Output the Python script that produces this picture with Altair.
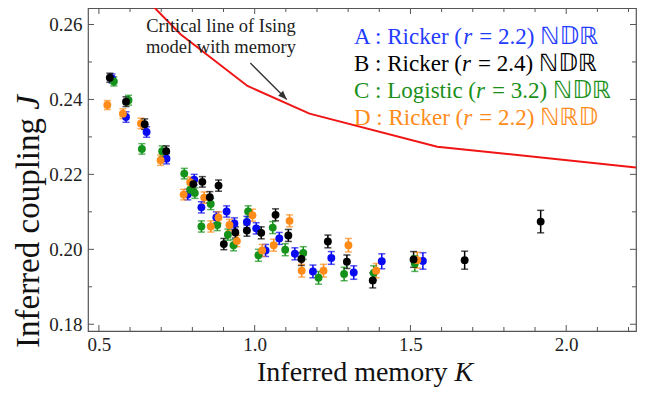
import altair as alt
import pandas as pd

FONT = "Liberation Serif"
W, H = 548, 323
K_DOMAIN = [0.465, 2.224]
J_DOMAIN = [0.1782, 0.2644]

# ---- data ----
a_k = [0.542, 0.587, 0.653, 0.717, 0.785, 0.806, 0.829, 0.877, 0.910, 0.935, 0.975, 1.005, 1.035, 1.079, 1.129, 1.187, 1.246, 1.318, 1.408, 1.540]
a_j = [0.2456, 0.2353, 0.2313, 0.2242, 0.2146, 0.2186, 0.2112, 0.2085, 0.2101, 0.2069, 0.2073, 0.2056, 0.1997, 0.2029, 0.1988, 0.1941, 0.1977, 0.1938, 0.1968, 0.1969]
a_e = [0.0012, 0.0014, 0.0014, 0.0014, 0.0014, 0.0014, 0.0015, 0.0015, 0.0015, 0.0015, 0.0015, 0.0015, 0.0016, 0.0016, 0.0016, 0.0017, 0.0017, 0.0018, 0.0020, 0.0022]

b_k = [0.535, 0.587, 0.647, 0.716, 0.803, 0.832, 0.856, 0.884, 0.901, 0.938, 0.975, 1.021, 1.067, 1.108, 1.150, 1.235, 1.296, 1.379, 1.510, 1.674, 1.918]
b_j = [0.2458, 0.2394, 0.2334, 0.2262, 0.2174, 0.2180, 0.2139, 0.2170, 0.2014, 0.2045, 0.2050, 0.2044, 0.2092, 0.2037, 0.1974, 0.2021, 0.1967, 0.1917, 0.1973, 0.1971, 0.2074]
b_e = [0.0012, 0.0013, 0.0014, 0.0014, 0.0014, 0.0014, 0.0015, 0.0015, 0.0015, 0.0015, 0.0015, 0.0016, 0.0016, 0.0016, 0.0017, 0.0017, 0.0018, 0.0020, 0.0021, 0.0024, 0.0030]

c_k = [0.548, 0.595, 0.638, 0.703, 0.774, 0.793, 0.808, 0.859, 0.829, 0.880, 0.914, 0.932, 0.979, 1.012, 1.058, 1.098, 1.156, 1.205, 1.287, 1.382, 1.514]
c_j = [0.2448, 0.2398, 0.2268, 0.2262, 0.2202, 0.2159, 0.2150, 0.2121, 0.2061, 0.2065, 0.2039, 0.2011, 0.2101, 0.1984, 0.2058, 0.1999, 0.1990, 0.1924, 0.1934, 0.1937, 0.1962]
c_e = [0.0012, 0.0013, 0.0014, 0.0014, 0.0014, 0.0014, 0.0014, 0.0015, 0.0015, 0.0015, 0.0015, 0.0015, 0.0015, 0.0016, 0.0016, 0.0016, 0.0017, 0.0017, 0.0018, 0.0019, 0.0021]

d_k = [0.527, 0.577, 0.635, 0.698, 0.772, 0.793, 0.838, 0.859, 0.884, 0.919, 0.943, 0.993, 1.024, 1.061, 1.112, 1.151, 1.221, 1.301, 1.390, 1.522]
d_j = [0.2385, 0.2362, 0.2336, 0.2238, 0.2146, 0.2179, 0.2138, 0.2061, 0.2085, 0.2065, 0.2022, 0.2091, 0.1997, 0.2011, 0.2076, 0.1943, 0.1943, 0.2011, 0.1943, 0.1971]
d_e = [0.0012, 0.0013, 0.0014, 0.0014, 0.0014, 0.0014, 0.0015, 0.0015, 0.0015, 0.0015, 0.0015, 0.0016, 0.0016, 0.0016, 0.0016, 0.0017, 0.0017, 0.0018, 0.0019, 0.0021]

crit_k = [0.600, 0.762, 0.977, 1.176, 1.586, 2.224]
crit_j = [0.2711, 0.2574, 0.2436, 0.2362, 0.2274, 0.2218]

arrow_k = [0.986, 1.103]
arrow_j = [0.2497, 0.2400]

x_major = [0.5, 1.0, 1.5, 2.0]
x_minor = [0.6, 0.7, 0.8, 0.9, 1.1, 1.2, 1.3, 1.4, 1.6, 1.7, 1.8, 1.9, 2.1, 2.2]
y_major = [0.18, 0.20, 0.22, 0.24, 0.26]
y_minor = [0.19, 0.21, 0.23, 0.25]

series_names = ["A", "B", "C", "D"]
series_colors = ["#0a0af0", "#000000", "#15921a", "#ff8c1a"]
NB = "\u00a0"
legend_pre = ["A : Ricker (", "B : Ricker (", "C : Logistic (", "D : Ricker ("]
legend_mid = ["= 2.2)", "= 2.4)", "= 3.2)", "= 2.2)"]
legend_ds = ["\u2115\U0001D53B\u211D", "\u2115\U0001D53B\u211D", "\u2115\U0001D53B\u211D", "\u2115\u211D\U0001D53B"]
legend_colors = ["#1f3cff", "#000000", "#1a901a", "#ff8c1a"]
legend_pre_em = [4.749, 4.694, 5.306, 4.749]
legend_mid_em = 2.397

# ---- frames ----
rows = []
for name, ks, js, es in [("A", a_k, a_j, a_e), ("C", c_k, c_j, c_e),
                         ("D", d_k, d_j, d_e), ("B", b_k, b_j, b_e)]:
    for k, j, e in zip(ks, js, es):
        rows.append({"series": name, "K": k, "J": j, "lo": j - e, "hi": j + e})
df = pd.DataFrame(rows)
crit_df = pd.DataFrame({"K": crit_k, "J": crit_j})
arrow_df = pd.DataFrame({"K": [arrow_k[0]], "J": [arrow_j[0]], "K2": [arrow_k[1]], "J2": [arrow_j[1]]})
head_df = pd.DataFrame({"K": [arrow_k[1]], "J": [arrow_j[1]]})

xs = alt.Scale(domain=K_DOMAIN, nice=False, zero=False)
ys = alt.Scale(domain=J_DOMAIN, nice=False, zero=False)
color = alt.Color("series:N", scale=alt.Scale(domain=series_names, range=series_colors), legend=None)

FRAME = "#555555"
X_AX = alt.Axis(values=x_major, format=".1f", title=None, grid=False, domain=False, ticks=False,
                labelFont=FONT, labelFontSize=19, labelColor="#222222", labelPadding=4,
                labelFlush=False)
Y_AX = alt.Axis(values=y_major, format=".2f", title=None, grid=False, domain=False, ticks=False,
                labelFont=FONT, labelFontSize=19, labelColor="#222222", labelPadding=6,
                labelFlush=False)


def X(field):
    return alt.X(field, scale=xs, axis=X_AX)


def Y(field):
    return alt.Y(field, scale=ys, axis=Y_AX)


def xticks(vals, length):
    d = pd.DataFrame({"K": vals})
    bot = alt.Chart(d).mark_rule(color=FRAME, strokeWidth=1).encode(
        x=X("K:Q"), y=alt.value(H), y2=alt.value(H - length))
    top = alt.Chart(d).mark_rule(color=FRAME, strokeWidth=1).encode(
        x=X("K:Q"), y=alt.value(0), y2=alt.value(length))
    return [bot, top]


def yticks(vals, length):
    d = pd.DataFrame({"J": vals})
    left = alt.Chart(d).mark_rule(color=FRAME, strokeWidth=1).encode(
        y=Y("J:Q"), x=alt.value(0), x2=alt.value(length))
    right = alt.Chart(d).mark_rule(color=FRAME, strokeWidth=1).encode(
        y=Y("J:Q"), x=alt.value(W), x2=alt.value(W - length))
    return [left, right]


def text(t, x, y, size, col, style="normal", angle=0, align="left", baseline="alphabetic", font=FONT):
    return alt.Chart(pd.DataFrame({"t": [t]})).mark_text(
        font=font, fontSize=size, color=col, fontStyle=style, angle=angle,
        align=align, baseline=baseline).encode(x=alt.value(x), y=alt.value(y), text="t:N")


points = alt.Chart(df).mark_circle(size=62, opacity=1).encode(x=X("K:Q"), y=Y("J:Q"), color=color)
bars = alt.Chart(df).mark_rule(strokeWidth=1.5).encode(x=X("K:Q"), y=Y("lo:Q"), y2="hi:Q", color=color)
cap_lo = alt.Chart(df).mark_tick(orient="horizontal", size=7, thickness=1.5).encode(
    x=X("K:Q"), y=Y("lo:Q"), color=color)
cap_hi = alt.Chart(df).mark_tick(orient="horizontal", size=7, thickness=1.5).encode(
    x=X("K:Q"), y=Y("hi:Q"), color=color)

crit = alt.Chart(crit_df).mark_line(color="#f01414", strokeWidth=2, clip=True).encode(
    x=X("K:Q"), y=Y("J:Q"))

arrow = alt.Chart(arrow_df).mark_rule(color="#333333", strokeWidth=1.3).encode(
    x=X("K:Q"), y=Y("J:Q"), x2="K2:Q", y2="J2:Q")
head = alt.Chart(head_df).mark_point(shape="M0,0L-0.4,1L0.4,1Z", filled=True, color="#333333",
                                     opacity=1, size=300, angle=135).encode(x=X("K:Q"), y=Y("J:Q"))

layers = [points.mark_circle(size=62, opacity=0)]
layers += xticks(x_major, 6) + xticks(x_minor, 4) + yticks(y_major, 6) + yticks(y_minor, 4)
layers += [crit, bars, cap_lo, cap_hi, points, arrow, head]

# annotation
layers.append(text("Critical line of Ising", 133, 24, 18.5, "#222222", align="center"))
layers.append(text("model with memory", 133, 45, 18.5, "#222222", align="center"))

# legend
LFS = 23
LX = 266
for i in range(4):
    y = 36 + i * 27
    x1 = LX + legend_pre_em[i] * LFS
    x2 = x1 + 0.389 * LFS + 7
    x3 = x2 + legend_mid_em * LFS + 6
    layers.append(text(legend_pre[i], LX, y, LFS, legend_colors[i]))
    layers.append(text("r", x1, y, LFS, legend_colors[i], style="italic"))
    layers.append(text(legend_mid[i], x2, y, LFS, legend_colors[i]))
    layers.append(text(legend_ds[i], x3, y, 24, legend_colors[i], font="DejaVu Sans"))

# axis titles
TFS = 28
layers.append(text("Inferred memory", 169, 373, TFS, "#111111"))
layers.append(text("K", 169 + 7.053 * TFS, 373, TFS, "#111111", style="italic"))
YFS = 33
layers.append(text("Inferred coupling", -49, 340, YFS, "#111111", angle=270))
layers.append(text("J", -49, 340 - 7.22 * YFS, YFS, "#111111", style="italic", angle=270))

chart = alt.layer(*layers).properties(
    width=W, height=H,
    autosize=alt.AutoSizeParams(type="none"),
    padding={"left": 80, "top": 0, "right": 1, "bottom": 57},
).configure_view(stroke=FRAME, strokeWidth=1.2)

chart.save("out.html", embed_options={"renderer": "svg", "actions": False})
